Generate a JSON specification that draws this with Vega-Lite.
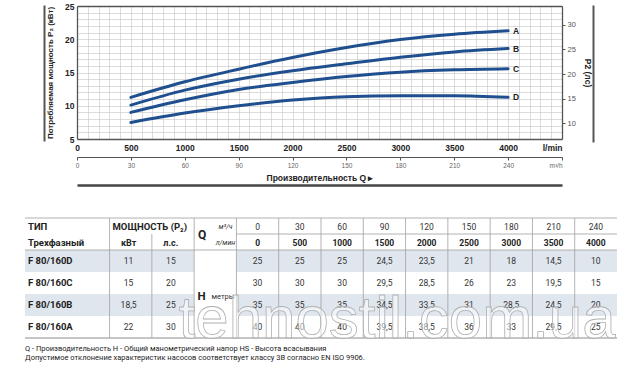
{
  "$schema": "https://vega.github.io/schema/vega-lite/v6.json",
  "width": 640,
  "height": 376,
  "padding": 0,
  "autosize": {"type": "none"},
  "background": "white",
  "config": {
    "view": {"stroke": null},
    "font": "Liberation Sans",
    "locale": {"number": {"decimal": ",", "thousands": "\u00a0", "grouping": [3], "currency": ["", ""]}}
  },
  "datasets": {
    "curves": [
      {"curve": "A", "Q": 500, "P": 11.26}, {"curve": "A", "Q": 1000, "P": 13.6}, {"curve": "A", "Q": 1500, "P": 15.5},
      {"curve": "A", "Q": 2000, "P": 17.25}, {"curve": "A", "Q": 2500, "P": 18.75}, {"curve": "A", "Q": 3000, "P": 19.95},
      {"curve": "A", "Q": 3500, "P": 20.75}, {"curve": "A", "Q": 4000, "P": 21.26},
      {"curve": "B", "Q": 500, "P": 10.1}, {"curve": "B", "Q": 1000, "P": 12.35}, {"curve": "B", "Q": 1500, "P": 14.0},
      {"curve": "B", "Q": 2000, "P": 15.25}, {"curve": "B", "Q": 2500, "P": 16.3}, {"curve": "B", "Q": 3000, "P": 17.3},
      {"curve": "B", "Q": 3500, "P": 18.1}, {"curve": "B", "Q": 4000, "P": 18.6},
      {"curve": "C", "Q": 500, "P": 9.0}, {"curve": "C", "Q": 1000, "P": 10.9}, {"curve": "C", "Q": 1500, "P": 12.45},
      {"curve": "C", "Q": 2000, "P": 13.5}, {"curve": "C", "Q": 2500, "P": 14.4}, {"curve": "C", "Q": 3000, "P": 15.05},
      {"curve": "C", "Q": 3500, "P": 15.4}, {"curve": "C", "Q": 4000, "P": 15.56},
      {"curve": "D", "Q": 500, "P": 7.48}, {"curve": "D", "Q": 1000, "P": 8.9}, {"curve": "D", "Q": 1500, "P": 10.0},
      {"curve": "D", "Q": 2000, "P": 10.85}, {"curve": "D", "Q": 2500, "P": 11.35}, {"curve": "D", "Q": 3000, "P": 11.5},
      {"curve": "D", "Q": 3500, "P": 11.5}, {"curve": "D", "Q": 4000, "P": 11.26}
    ],
    "models": [
      {"model": "F 80/160D", "curve": "D", "kw": 11, "hp": 15},
      {"model": "F 80/160C", "curve": "C", "kw": 15, "hp": 20},
      {"model": "F 80/160B", "curve": "B", "kw": 18.5, "hp": 25},
      {"model": "F 80/160A", "curve": "A", "kw": 22, "hp": 30}
    ],
    "flow": [
      {"m3h": 0, "lmin": 0}, {"m3h": 30, "lmin": 500}, {"m3h": 60, "lmin": 1000}, {"m3h": 90, "lmin": 1500},
      {"m3h": 120, "lmin": 2000}, {"m3h": 150, "lmin": 2500}, {"m3h": 180, "lmin": 3000}, {"m3h": 210, "lmin": 3500},
      {"m3h": 240, "lmin": 4000}
    ],
    "head": [
      {"model": "F 80/160D", "m3h": 0, "H": 25}, {"model": "F 80/160D", "m3h": 30, "H": 25}, {"model": "F 80/160D", "m3h": 60, "H": 25},
      {"model": "F 80/160D", "m3h": 90, "H": 24.5}, {"model": "F 80/160D", "m3h": 120, "H": 23.5}, {"model": "F 80/160D", "m3h": 150, "H": 21},
      {"model": "F 80/160D", "m3h": 180, "H": 18}, {"model": "F 80/160D", "m3h": 210, "H": 14.5}, {"model": "F 80/160D", "m3h": 240, "H": 10},
      {"model": "F 80/160C", "m3h": 0, "H": 30}, {"model": "F 80/160C", "m3h": 30, "H": 30}, {"model": "F 80/160C", "m3h": 60, "H": 30},
      {"model": "F 80/160C", "m3h": 90, "H": 29.5}, {"model": "F 80/160C", "m3h": 120, "H": 28.5}, {"model": "F 80/160C", "m3h": 150, "H": 26},
      {"model": "F 80/160C", "m3h": 180, "H": 23}, {"model": "F 80/160C", "m3h": 210, "H": 19.5}, {"model": "F 80/160C", "m3h": 240, "H": 15},
      {"model": "F 80/160B", "m3h": 0, "H": 35}, {"model": "F 80/160B", "m3h": 30, "H": 35}, {"model": "F 80/160B", "m3h": 60, "H": 35},
      {"model": "F 80/160B", "m3h": 90, "H": 34.5}, {"model": "F 80/160B", "m3h": 120, "H": 33.5}, {"model": "F 80/160B", "m3h": 150, "H": 31},
      {"model": "F 80/160B", "m3h": 180, "H": 28.5}, {"model": "F 80/160B", "m3h": 210, "H": 24.5}, {"model": "F 80/160B", "m3h": 240, "H": 20},
      {"model": "F 80/160A", "m3h": 0, "H": 40}, {"model": "F 80/160A", "m3h": 30, "H": 40}, {"model": "F 80/160A", "m3h": 60, "H": 40},
      {"model": "F 80/160A", "m3h": 90, "H": 39.5}, {"model": "F 80/160A", "m3h": 120, "H": 38.5}, {"model": "F 80/160A", "m3h": 150, "H": 36},
      {"model": "F 80/160A", "m3h": 180, "H": 33}, {"model": "F 80/160A", "m3h": 210, "H": 29.5}, {"model": "F 80/160A", "m3h": 240, "H": 25}
    ],
    "notes": [
      {"line": 1, "text": "Q - Производительность   H - Общий манометрический напор   HS - Высота всасывания"},
      {"line": 2, "text": "Допустимое отклонение характеристик насосов соответствует классу 3B согласно EN ISO 9906."}
    ]
  },
  "resolve": {"scale": {"x": "independent", "y": "independent"}, "axis": {"x": "independent", "y": "independent"}},
  "layer": [
    {
      "data": {"name": "models"},
      "transform": [{"filter": "datum.curve == 'D' || datum.curve == 'B'"}],
      "mark": {"type": "rect", "fill": "#dfe6ee"},
      "encoding": {
        "x": {"datum": "type", "type": "nominal", "bandPosition": 0, "axis": null,
              "scale": {"type": "band", "domain": ["type", "type2", "kw", "hp", "q", 0, 30, 60, 90, 120, 150, 180, 210, 240], "range": [25, 617], "paddingInner": 0, "paddingOuter": 0}},
        "x2": {"datum": "hp", "bandPosition": 1},
        "y": {"field": "model", "type": "nominal", "axis": null,
              "scale": {"type": "band", "domain": ["F 80/160D", "F 80/160C", "F 80/160B", "F 80/160A"], "range": [250, 338], "paddingInner": 0, "paddingOuter": 0}}
      }
    },
    {
      "data": {"name": "models"},
      "transform": [{"filter": "datum.curve == 'D' || datum.curve == 'B'"}],
      "mark": {"type": "rect", "fill": "#dfe6ee"},
      "encoding": {
        "x": {"datum": 0, "type": "nominal", "bandPosition": 0, "axis": null,
              "scale": {"type": "band", "domain": ["type", "type2", "kw", "hp", "q", 0, 30, 60, 90, 120, 150, 180, 210, 240], "range": [25, 617], "paddingInner": 0, "paddingOuter": 0}},
        "x2": {"datum": 240, "bandPosition": 1},
        "y": {"field": "model", "type": "nominal", "axis": null,
              "scale": {"type": "band", "domain": ["F 80/160D", "F 80/160C", "F 80/160B", "F 80/160A"], "range": [250, 338], "paddingInner": 0, "paddingOuter": 0}}
      }
    },
    {
      "data": {"values": [{}]},
      "mark": {"type": "rule", "stroke": "#a0a0a0", "strokeWidth": 0.8},
      "encoding": {
        "x": {"datum": "type", "type": "nominal", "bandPosition": 0, "axis": null,
              "scale": {"type": "band", "domain": ["type", "type2", "kw", "hp", "q", 0, 30, 60, 90, 120, 150, 180, 210, 240], "range": [25, 617], "paddingInner": 0, "paddingOuter": 0}},
        "x2": {"datum": 240, "bandPosition": 1},
        "y": {"datum": "h1", "type": "nominal", "bandPosition": 0, "axis": null,
              "scale": {"type": "band", "domain": ["h1", "h2"], "range": [218, 250], "paddingInner": 0, "paddingOuter": 0}}
      }
    },
    {
      "data": {"values": [{}]},
      "mark": {"type": "rule", "stroke": "#a0a0a0", "strokeWidth": 0.8},
      "encoding": {
        "x": {"datum": "type", "type": "nominal", "bandPosition": 0, "axis": null,
              "scale": {"type": "band", "domain": ["type", "type2", "kw", "hp", "q", 0, 30, 60, 90, 120, 150, 180, 210, 240], "range": [25, 617], "paddingInner": 0, "paddingOuter": 0}},
        "x2": {"datum": 240, "bandPosition": 1},
        "y": {"datum": "h2", "type": "nominal", "bandPosition": 1, "axis": null,
              "scale": {"type": "band", "domain": ["h1", "h2"], "range": [218, 250], "paddingInner": 0, "paddingOuter": 0}}
      }
    },
    {
      "data": {"values": [{}]},
      "mark": {"type": "rule", "stroke": "#a0a0a0", "strokeWidth": 0.8},
      "encoding": {
        "x": {"datum": 0, "type": "nominal", "bandPosition": 0, "axis": null,
              "scale": {"type": "band", "domain": ["type", "type2", "kw", "hp", "q", 0, 30, 60, 90, 120, 150, 180, 210, 240], "range": [25, 617], "paddingInner": 0, "paddingOuter": 0}},
        "x2": {"datum": 240, "bandPosition": 1},
        "y": {"datum": "h2", "type": "nominal", "bandPosition": 0, "axis": null,
              "scale": {"type": "band", "domain": ["h1", "h2"], "range": [218, 250], "paddingInner": 0, "paddingOuter": 0}}
      }
    },
    {
      "data": {"values": [{}]},
      "mark": {"type": "rule", "stroke": "#8c8c8c", "strokeWidth": 1},
      "encoding": {
        "x": {"datum": "type", "type": "nominal", "bandPosition": 0, "axis": null,
              "scale": {"type": "band", "domain": ["type", "type2", "kw", "hp", "q", 0, 30, 60, 90, 120, 150, 180, 210, 240], "range": [25, 617], "paddingInner": 0, "paddingOuter": 0}},
        "x2": {"datum": 240, "bandPosition": 1},
        "y": {"datum": "F 80/160A", "type": "nominal", "bandPosition": 1, "axis": null,
              "scale": {"type": "band", "domain": ["F 80/160D", "F 80/160C", "F 80/160B", "F 80/160A"], "range": [250, 338], "paddingInner": 0, "paddingOuter": 0}}
      }
    },
    {
      "data": {"name": "flow"},
      "mark": {"type": "rule", "stroke": "#a0a0a0", "strokeWidth": 0.8},
      "encoding": {
        "x": {"field": "m3h", "type": "nominal", "bandPosition": 0, "axis": null,
              "scale": {"type": "band", "domain": ["type", "type2", "kw", "hp", "q", 0, 30, 60, 90, 120, 150, 180, 210, 240], "range": [25, 617], "paddingInner": 0, "paddingOuter": 0}},
        "y": {"datum": "all", "type": "nominal", "bandPosition": 0, "axis": null,
              "scale": {"type": "band", "domain": ["all"], "range": [218, 338], "paddingInner": 0, "paddingOuter": 0}},
        "y2": {"datum": "all", "bandPosition": 1}
      }
    },
    {
      "data": {"values": [{"col": "kw"}, {"col": "q"}]},
      "mark": {"type": "rule", "stroke": "#a0a0a0", "strokeWidth": 0.8},
      "encoding": {
        "x": {"field": "col", "type": "nominal", "bandPosition": 0, "axis": null,
              "scale": {"type": "band", "domain": ["type", "type2", "kw", "hp", "q", 0, 30, 60, 90, 120, 150, 180, 210, 240], "range": [25, 617], "paddingInner": 0, "paddingOuter": 0}},
        "y": {"datum": "all", "type": "nominal", "bandPosition": 0, "axis": null,
              "scale": {"type": "band", "domain": ["all"], "range": [218, 338], "paddingInner": 0, "paddingOuter": 0}},
        "y2": {"datum": "all", "bandPosition": 1}
      }
    },
    {
      "data": {"values": [{}]},
      "mark": {"type": "rule", "stroke": "#a0a0a0", "strokeWidth": 0.8},
      "encoding": {
        "x": {"datum": "hp", "type": "nominal", "bandPosition": 0, "axis": null,
              "scale": {"type": "band", "domain": ["type", "type2", "kw", "hp", "q", 0, 30, 60, 90, 120, 150, 180, 210, 240], "range": [25, 617], "paddingInner": 0, "paddingOuter": 0}},
        "y": {"datum": "all", "type": "nominal", "bandPosition": 0, "axis": null,
              "scale": {"type": "band", "domain": ["all"], "range": [234, 338], "paddingInner": 0, "paddingOuter": 0}},
        "y2": {"datum": "all", "bandPosition": 1}
      }
    },
    {
      "data": {"values": [{"row": "h1", "label": "ТИП"}, {"row": "h2", "label": "Трехфазный"}]},
      "mark": {"type": "text", "align": "left", "baseline": "middle", "dx": 3, "font": "Roboto", "fontSize": 9.5, "fontWeight": "bold", "color": "#222"},
      "encoding": {
        "x": {"datum": "type", "type": "nominal", "bandPosition": 0, "axis": null,
              "scale": {"type": "band", "domain": ["type", "type2", "kw", "hp", "q", 0, 30, 60, 90, 120, 150, 180, 210, 240], "range": [25, 617], "paddingInner": 0, "paddingOuter": 0}},
        "y": {"field": "row", "type": "nominal", "bandPosition": 0.56, "axis": null,
              "scale": {"type": "band", "domain": ["h1", "h2"], "range": [218, 250], "paddingInner": 0, "paddingOuter": 0}},
        "text": {"field": "label"}
      }
    },
    {
      "data": {"values": [{}]},
      "mark": {"type": "text", "text": "МОЩНОСТЬ (P₂)", "align": "center", "baseline": "middle", "font": "Roboto", "fontSize": 9.5, "fontWeight": "bold", "color": "#222"},
      "encoding": {
        "x": {"datum": "kw", "type": "nominal", "bandPosition": 0.95, "axis": null,
              "scale": {"type": "band", "domain": ["type", "type2", "kw", "hp", "q", 0, 30, 60, 90, 120, 150, 180, 210, 240], "range": [25, 617], "paddingInner": 0, "paddingOuter": 0}},
        "y": {"datum": "h1", "type": "nominal", "bandPosition": 0.56, "axis": null,
              "scale": {"type": "band", "domain": ["h1", "h2"], "range": [218, 250], "paddingInner": 0, "paddingOuter": 0}}
      }
    },
    {
      "data": {"values": [{"col": "kw", "label": "кВт"}, {"col": "hp", "label": "л.с."}]},
      "mark": {"type": "text", "align": "center", "baseline": "middle", "font": "Roboto", "fontSize": 9, "fontWeight": "bold", "color": "#222"},
      "encoding": {
        "x": {"field": "col", "type": "nominal", "bandPosition": 0.45, "axis": null,
              "scale": {"type": "band", "domain": ["type", "type2", "kw", "hp", "q", 0, 30, 60, 90, 120, 150, 180, 210, 240], "range": [25, 617], "paddingInner": 0, "paddingOuter": 0}},
        "y": {"datum": "h2", "type": "nominal", "bandPosition": 0.56, "axis": null,
              "scale": {"type": "band", "domain": ["h1", "h2"], "range": [218, 250], "paddingInner": 0, "paddingOuter": 0}},
        "text": {"field": "label"}
      }
    },
    {
      "data": {"values": [{}]},
      "mark": {"type": "text", "text": "Q", "align": "center", "baseline": "middle", "font": "Roboto", "fontSize": 12, "fontWeight": "bold", "color": "#222"},
      "encoding": {
        "x": {"datum": "q", "type": "nominal", "bandPosition": 0.19, "axis": null,
              "scale": {"type": "band", "domain": ["type", "type2", "kw", "hp", "q", 0, 30, 60, 90, 120, 150, 180, 210, 240], "range": [25, 617], "paddingInner": 0, "paddingOuter": 0}},
        "y": {"datum": "h2", "type": "nominal", "bandPosition": 0.05, "axis": null,
              "scale": {"type": "band", "domain": ["h1", "h2"], "range": [218, 250], "paddingInner": 0, "paddingOuter": 0}}
      }
    },
    {
      "data": {"values": [{"row": "h1", "label": "м³/ч"}, {"row": "h2", "label": "л/мин"}]},
      "mark": {"type": "text", "align": "center", "baseline": "middle", "font": "Roboto", "fontSize": 7, "fontStyle": "italic", "color": "#333"},
      "encoding": {
        "x": {"datum": "q", "type": "nominal", "bandPosition": 0.74, "axis": null,
              "scale": {"type": "band", "domain": ["type", "type2", "kw", "hp", "q", 0, 30, 60, 90, 120, 150, 180, 210, 240], "range": [25, 617], "paddingInner": 0, "paddingOuter": 0}},
        "y": {"field": "row", "type": "nominal", "bandPosition": 0.56, "axis": null,
              "scale": {"type": "band", "domain": ["h1", "h2"], "range": [218, 250], "paddingInner": 0, "paddingOuter": 0}},
        "text": {"field": "label"}
      }
    },
    {
      "data": {"name": "flow"},
      "mark": {"type": "text", "align": "center", "baseline": "middle", "font": "Roboto", "fontSize": 8.5, "color": "#333"},
      "encoding": {
        "x": {"field": "m3h", "type": "nominal", "axis": null,
              "scale": {"type": "band", "domain": ["type", "type2", "kw", "hp", "q", 0, 30, 60, 90, 120, 150, 180, 210, 240], "range": [25, 617], "paddingInner": 0, "paddingOuter": 0}},
        "y": {"datum": "h1", "type": "nominal", "bandPosition": 0.56, "axis": null,
              "scale": {"type": "band", "domain": ["h1", "h2"], "range": [218, 250], "paddingInner": 0, "paddingOuter": 0}},
        "text": {"field": "m3h", "type": "quantitative", "format": "d"}
      }
    },
    {
      "data": {"name": "flow"},
      "mark": {"type": "text", "align": "center", "baseline": "middle", "font": "Roboto", "fontSize": 8.5, "fontWeight": "bold", "color": "#222"},
      "encoding": {
        "x": {"field": "m3h", "type": "nominal", "axis": null,
              "scale": {"type": "band", "domain": ["type", "type2", "kw", "hp", "q", 0, 30, 60, 90, 120, 150, 180, 210, 240], "range": [25, 617], "paddingInner": 0, "paddingOuter": 0}},
        "y": {"datum": "h2", "type": "nominal", "bandPosition": 0.56, "axis": null,
              "scale": {"type": "band", "domain": ["h1", "h2"], "range": [218, 250], "paddingInner": 0, "paddingOuter": 0}},
        "text": {"field": "lmin", "type": "quantitative", "format": "d"}
      }
    },
    {
      "data": {"name": "models"},
      "mark": {"type": "text", "align": "left", "baseline": "middle", "dx": 3, "font": "Roboto", "fontSize": 9.5, "fontWeight": "bold", "color": "#222"},
      "encoding": {
        "x": {"datum": "type", "type": "nominal", "bandPosition": 0, "axis": null,
              "scale": {"type": "band", "domain": ["type", "type2", "kw", "hp", "q", 0, 30, 60, 90, 120, 150, 180, 210, 240], "range": [25, 617], "paddingInner": 0, "paddingOuter": 0}},
        "y": {"field": "model", "type": "nominal", "axis": null,
              "scale": {"type": "band", "domain": ["F 80/160D", "F 80/160C", "F 80/160B", "F 80/160A"], "range": [250, 338], "paddingInner": 0, "paddingOuter": 0}},
        "text": {"field": "model"}
      }
    },
    {
      "data": {"name": "models"},
      "mark": {"type": "text", "align": "center", "baseline": "middle", "font": "Roboto", "fontSize": 8.5, "color": "#333"},
      "encoding": {
        "x": {"datum": "kw", "type": "nominal", "bandPosition": 0.45, "axis": null,
              "scale": {"type": "band", "domain": ["type", "type2", "kw", "hp", "q", 0, 30, 60, 90, 120, 150, 180, 210, 240], "range": [25, 617], "paddingInner": 0, "paddingOuter": 0}},
        "y": {"field": "model", "type": "nominal", "axis": null,
              "scale": {"type": "band", "domain": ["F 80/160D", "F 80/160C", "F 80/160B", "F 80/160A"], "range": [250, 338], "paddingInner": 0, "paddingOuter": 0}},
        "text": {"field": "kw", "type": "quantitative", "format": "~g"}
      }
    },
    {
      "data": {"name": "models"},
      "mark": {"type": "text", "align": "center", "baseline": "middle", "font": "Roboto", "fontSize": 8.5, "color": "#333"},
      "encoding": {
        "x": {"datum": "hp", "type": "nominal", "bandPosition": 0.45, "axis": null,
              "scale": {"type": "band", "domain": ["type", "type2", "kw", "hp", "q", 0, 30, 60, 90, 120, 150, 180, 210, 240], "range": [25, 617], "paddingInner": 0, "paddingOuter": 0}},
        "y": {"field": "model", "type": "nominal", "axis": null,
              "scale": {"type": "band", "domain": ["F 80/160D", "F 80/160C", "F 80/160B", "F 80/160A"], "range": [250, 338], "paddingInner": 0, "paddingOuter": 0}},
        "text": {"field": "hp", "type": "quantitative", "format": "~g"}
      }
    },
    {
      "data": {"name": "head"},
      "mark": {"type": "text", "align": "center", "baseline": "middle", "font": "Roboto", "fontSize": 8.5, "color": "#333"},
      "encoding": {
        "x": {"field": "m3h", "type": "nominal", "axis": null,
              "scale": {"type": "band", "domain": ["type", "type2", "kw", "hp", "q", 0, 30, 60, 90, 120, 150, 180, 210, 240], "range": [25, 617], "paddingInner": 0, "paddingOuter": 0}},
        "y": {"field": "model", "type": "nominal", "axis": null,
              "scale": {"type": "band", "domain": ["F 80/160D", "F 80/160C", "F 80/160B", "F 80/160A"], "range": [250, 338], "paddingInner": 0, "paddingOuter": 0}},
        "text": {"field": "H", "type": "quantitative", "format": "~g"}
      }
    },
    {
      "data": {"values": [{}]},
      "mark": {"type": "text", "text": "H", "align": "left", "baseline": "middle", "font": "Roboto", "fontSize": 11.5, "fontWeight": "bold", "color": "#222"},
      "encoding": {
        "x": {"datum": "q", "type": "nominal", "bandPosition": 0.08, "axis": null,
              "scale": {"type": "band", "domain": ["type", "type2", "kw", "hp", "q", 0, 30, 60, 90, 120, 150, 180, 210, 240], "range": [25, 617], "paddingInner": 0, "paddingOuter": 0}},
        "y": {"datum": "F 80/160B", "type": "nominal", "bandPosition": 0.15, "axis": null,
              "scale": {"type": "band", "domain": ["F 80/160D", "F 80/160C", "F 80/160B", "F 80/160A"], "range": [250, 338], "paddingInner": 0, "paddingOuter": 0}}
      }
    },
    {
      "data": {"values": [{}]},
      "mark": {"type": "text", "text": "метры", "align": "left", "baseline": "middle", "font": "Roboto", "fontSize": 7.5, "color": "#333"},
      "encoding": {
        "x": {"datum": "q", "type": "nominal", "bandPosition": 0.41, "axis": null,
              "scale": {"type": "band", "domain": ["type", "type2", "kw", "hp", "q", 0, 30, 60, 90, 120, 150, 180, 210, 240], "range": [25, 617], "paddingInner": 0, "paddingOuter": 0}},
        "y": {"datum": "F 80/160B", "type": "nominal", "bandPosition": 0.15, "axis": null,
              "scale": {"type": "band", "domain": ["F 80/160D", "F 80/160C", "F 80/160B", "F 80/160A"], "range": [250, 338], "paddingInner": 0, "paddingOuter": 0}}
      }
    },
    {
      "data": {"name": "notes"},
      "mark": {"type": "text", "align": "left", "baseline": "middle", "font": "Roboto", "fontSize": 7.5, "color": "#222"},
      "encoding": {
        "x": {"datum": "type", "type": "nominal", "bandPosition": 0, "axis": null,
              "scale": {"type": "band", "domain": ["type", "type2", "kw", "hp", "q", 0, 30, 60, 90, 120, 150, 180, 210, 240], "range": [25, 617], "paddingInner": 0, "paddingOuter": 0}},
        "y": {"field": "line", "type": "ordinal", "axis": null,
              "scale": {"type": "point", "domain": [1, 2], "range": [349, 358], "padding": 0}},
        "text": {"field": "text"}
      }
    },
    {
      "data": {"name": "curves"},
      "mark": {"type": "point", "opacity": 0},
      "encoding": {
        "x": {"field": "Q", "type": "quantitative",
              "scale": {"domain": [0, 4500], "range": [77, 562], "nice": false, "zero": false},
              "axis": {"orient": "top", "tickCount": 45, "grid": true, "gridColor": "#c4c4c4", "gridWidth": 0.6, "labels": false, "ticks": false, "domain": false, "title": null}},
        "y": {"field": "P", "type": "quantitative",
              "scale": {"domain": [5, 25], "range": [139, 6], "nice": false, "zero": false},
              "axis": {"orient": "left", "tickCount": 20, "grid": true, "gridColor": "#c4c4c4", "gridWidth": 0.6, "labels": false, "ticks": false, "domain": false, "title": null}}
      }
    },
    {
      "data": {"name": "curves"},
      "mark": {"type": "line", "interpolate": "monotone", "strokeWidth": 3, "stroke": "#1f4f8f", "strokeCap": "round"},
      "encoding": {
        "detail": {"field": "curve"},
        "x": {"field": "Q", "type": "quantitative",
              "scale": {"domain": [0, 4500], "range": [77, 562], "nice": false, "zero": false},
              "axis": {"orient": "bottom", "offset": -237, "values": [0, 500, 1000, 1500, 2000, 2500, 3000, 3500, 4000, 4500], "format": "d",
                       "labelExpr": "datum.value == 4500 ? 'l/min' : datum.label",
                       "labelAlign": {"condition": {"test": "datum.value == 4500", "value": "right"}, "value": "center"},
                       "labelFlush": false, "labelOverlap": false, "labelFont": "Liberation Sans", "labelFontSize": 8.5, "labelFontWeight": "bold", "labelColor": "#222", "labelPadding": 4,
                       "ticks": false, "domain": true, "domainColor": "#555", "domainWidth": 1.3, "grid": false, "title": null}},
        "y": {"field": "P", "type": "quantitative",
              "scale": {"domain": [5, 25], "range": [139, 6], "nice": false, "zero": false},
              "axis": {"orient": "left", "offset": -77, "values": [5, 10, 15, 20, 25],
                       "labelFont": "Liberation Sans", "labelFontSize": 8.5, "labelFontWeight": "bold", "labelColor": "#222", "labelPadding": 3,
                       "ticks": false, "domain": true, "domainColor": "#555", "domainWidth": 1.3, "grid": false,
                       "title": "Потребляемая мощность P₂ (кВт)", "titleFont": "Liberation Sans", "titleFontSize": 8, "titleFontWeight": "bold", "titleColor": "#222", "titlePadding": 10}}
      }
    },
    {
      "data": {"name": "curves"},
      "transform": [{"filter": "datum.Q == 4000"}],
      "mark": {"type": "text", "align": "left", "baseline": "middle", "dx": 5, "font": "Liberation Sans", "fontSize": 8.5, "fontWeight": "bold", "color": "#222"},
      "encoding": {
        "x": {"field": "Q", "type": "quantitative", "axis": null,
              "scale": {"domain": [0, 4500], "range": [77, 562], "nice": false, "zero": false}},
        "y": {"field": "P", "type": "quantitative", "axis": null,
              "scale": {"domain": [5, 25], "range": [139, 6], "nice": false, "zero": false}},
        "text": {"field": "curve"}
      }
    },
    {
      "data": {"name": "models"},
      "mark": {"type": "point", "opacity": 0},
      "encoding": {
        "y": {"field": "hp", "type": "quantitative",
              "scale": {"domain": [6.8, 33.84], "range": [139, 6], "nice": false, "zero": false},
              "axis": {"orient": "right", "offset": -78, "values": [10, 15, 20, 25, 30],
                       "ticks": true, "tickSize": 3, "tickColor": "#555", "tickWidth": 1,
                       "labelFont": "Liberation Sans", "labelFontSize": 7.5, "labelColor": "#555", "labelPadding": 2,
                       "domain": true, "domainColor": "#555", "domainWidth": 1.3, "grid": false,
                       "title": "P2 (лс)", "titleFont": "Liberation Sans", "titleFontSize": 8.5, "titleFontWeight": "bold", "titleColor": "#222", "titlePadding": 7}}
      }
    },
    {
      "data": {"name": "flow"},
      "mark": {"type": "point", "opacity": 0},
      "encoding": {
        "x": {"field": "m3h", "type": "quantitative",
              "scale": {"domain": [0, 270], "range": [77, 562], "nice": false, "zero": false},
              "axis": {"orient": "bottom", "offset": -219, "values": [0, 30, 60, 90, 120, 150, 180, 210, 240, 270],
                       "labelExpr": "datum.value == 270 ? 'm³/h' : datum.label",
                       "labelAlign": {"condition": {"test": "datum.value == 270", "value": "right"}, "value": "center"},
                       "labelFlush": false, "labelOverlap": false,
                       "ticks": true, "tickSize": 3, "tickColor": "#555", "domain": true, "domainColor": "#555", "domainWidth": 1,
                       "labelFont": "Liberation Sans", "labelFontSize": 6.5, "labelColor": "#666", "labelPadding": 2, "grid": false,
                       "title": "Производительность Q ▸", "titleFont": "Liberation Sans", "titleFontSize": 8.5, "titleFontWeight": "bold", "titleColor": "#222", "titlePadding": 5}},
        "y": {"field": "lmin", "type": "quantitative",
              "scale": {"domain": [0, 4000], "range": [141, 5], "nice": false, "zero": false},
              "axis": {"orient": "left", "offset": -44, "domain": true, "domainColor": "#555", "domainWidth": 2, "labels": false, "ticks": false, "grid": false, "title": null}}
      }
    },
    {
      "data": {"name": "flow"},
      "mark": {"type": "point", "opacity": 0},
      "encoding": {
        "x": {"field": "lmin", "type": "quantitative",
              "scale": {"domain": [0, 4500], "range": [77, 562], "nice": false, "zero": false},
              "axis": {"orient": "bottom", "offset": -191, "domain": true, "domainColor": "#444", "domainWidth": 2.5, "labels": false, "ticks": false, "grid": false, "title": null}},
        "y": {"field": "m3h", "type": "quantitative",
              "scale": {"domain": [0, 240], "range": [142, 5], "nice": false, "zero": false},
              "axis": {"orient": "right", "offset": -47, "domain": true, "domainColor": "#555", "domainWidth": 2, "labels": false, "ticks": false, "grid": false, "title": null}}
      }
    },
    {
      "data": {"name": "flow"},
      "mark": {"type": "point", "opacity": 0},
      "encoding": {
        "x": {"field": "lmin", "type": "quantitative",
              "scale": {"domain": [0, 4500], "range": [77, 562], "nice": false, "zero": false},
              "axis": {"orient": "top", "offset": -6, "domain": true, "domainColor": "#555", "domainWidth": 1.3, "labels": false, "ticks": false, "grid": false, "title": null}}
      }
    },
    {
      "data": {"values": [{}]},
      "mark": {"type": "text", "text": "tehnostil.com.ua", "align": "center", "baseline": "alphabetic", "font": "Liberation Sans", "fontSize": 60, "fill": "white", "fillOpacity": 0.5, "stroke": "#b0b0b0", "strokeWidth": 0.8},
      "encoding": {
        "x": {"datum": 90, "type": "nominal", "bandPosition": 0.8, "axis": null,
              "scale": {"type": "band", "domain": ["type", "type2", "kw", "hp", "q", 0, 30, 60, 90, 120, 150, 180, 210, 240], "range": [25, 617], "paddingInner": 0, "paddingOuter": 0}},
        "y": {"datum": "F 80/160A", "type": "nominal", "bandPosition": 1, "axis": null,
              "scale": {"type": "band", "domain": ["F 80/160D", "F 80/160C", "F 80/160B", "F 80/160A"], "range": [250, 338], "paddingInner": 0, "paddingOuter": 0}}
      }
    }
  ]
}
